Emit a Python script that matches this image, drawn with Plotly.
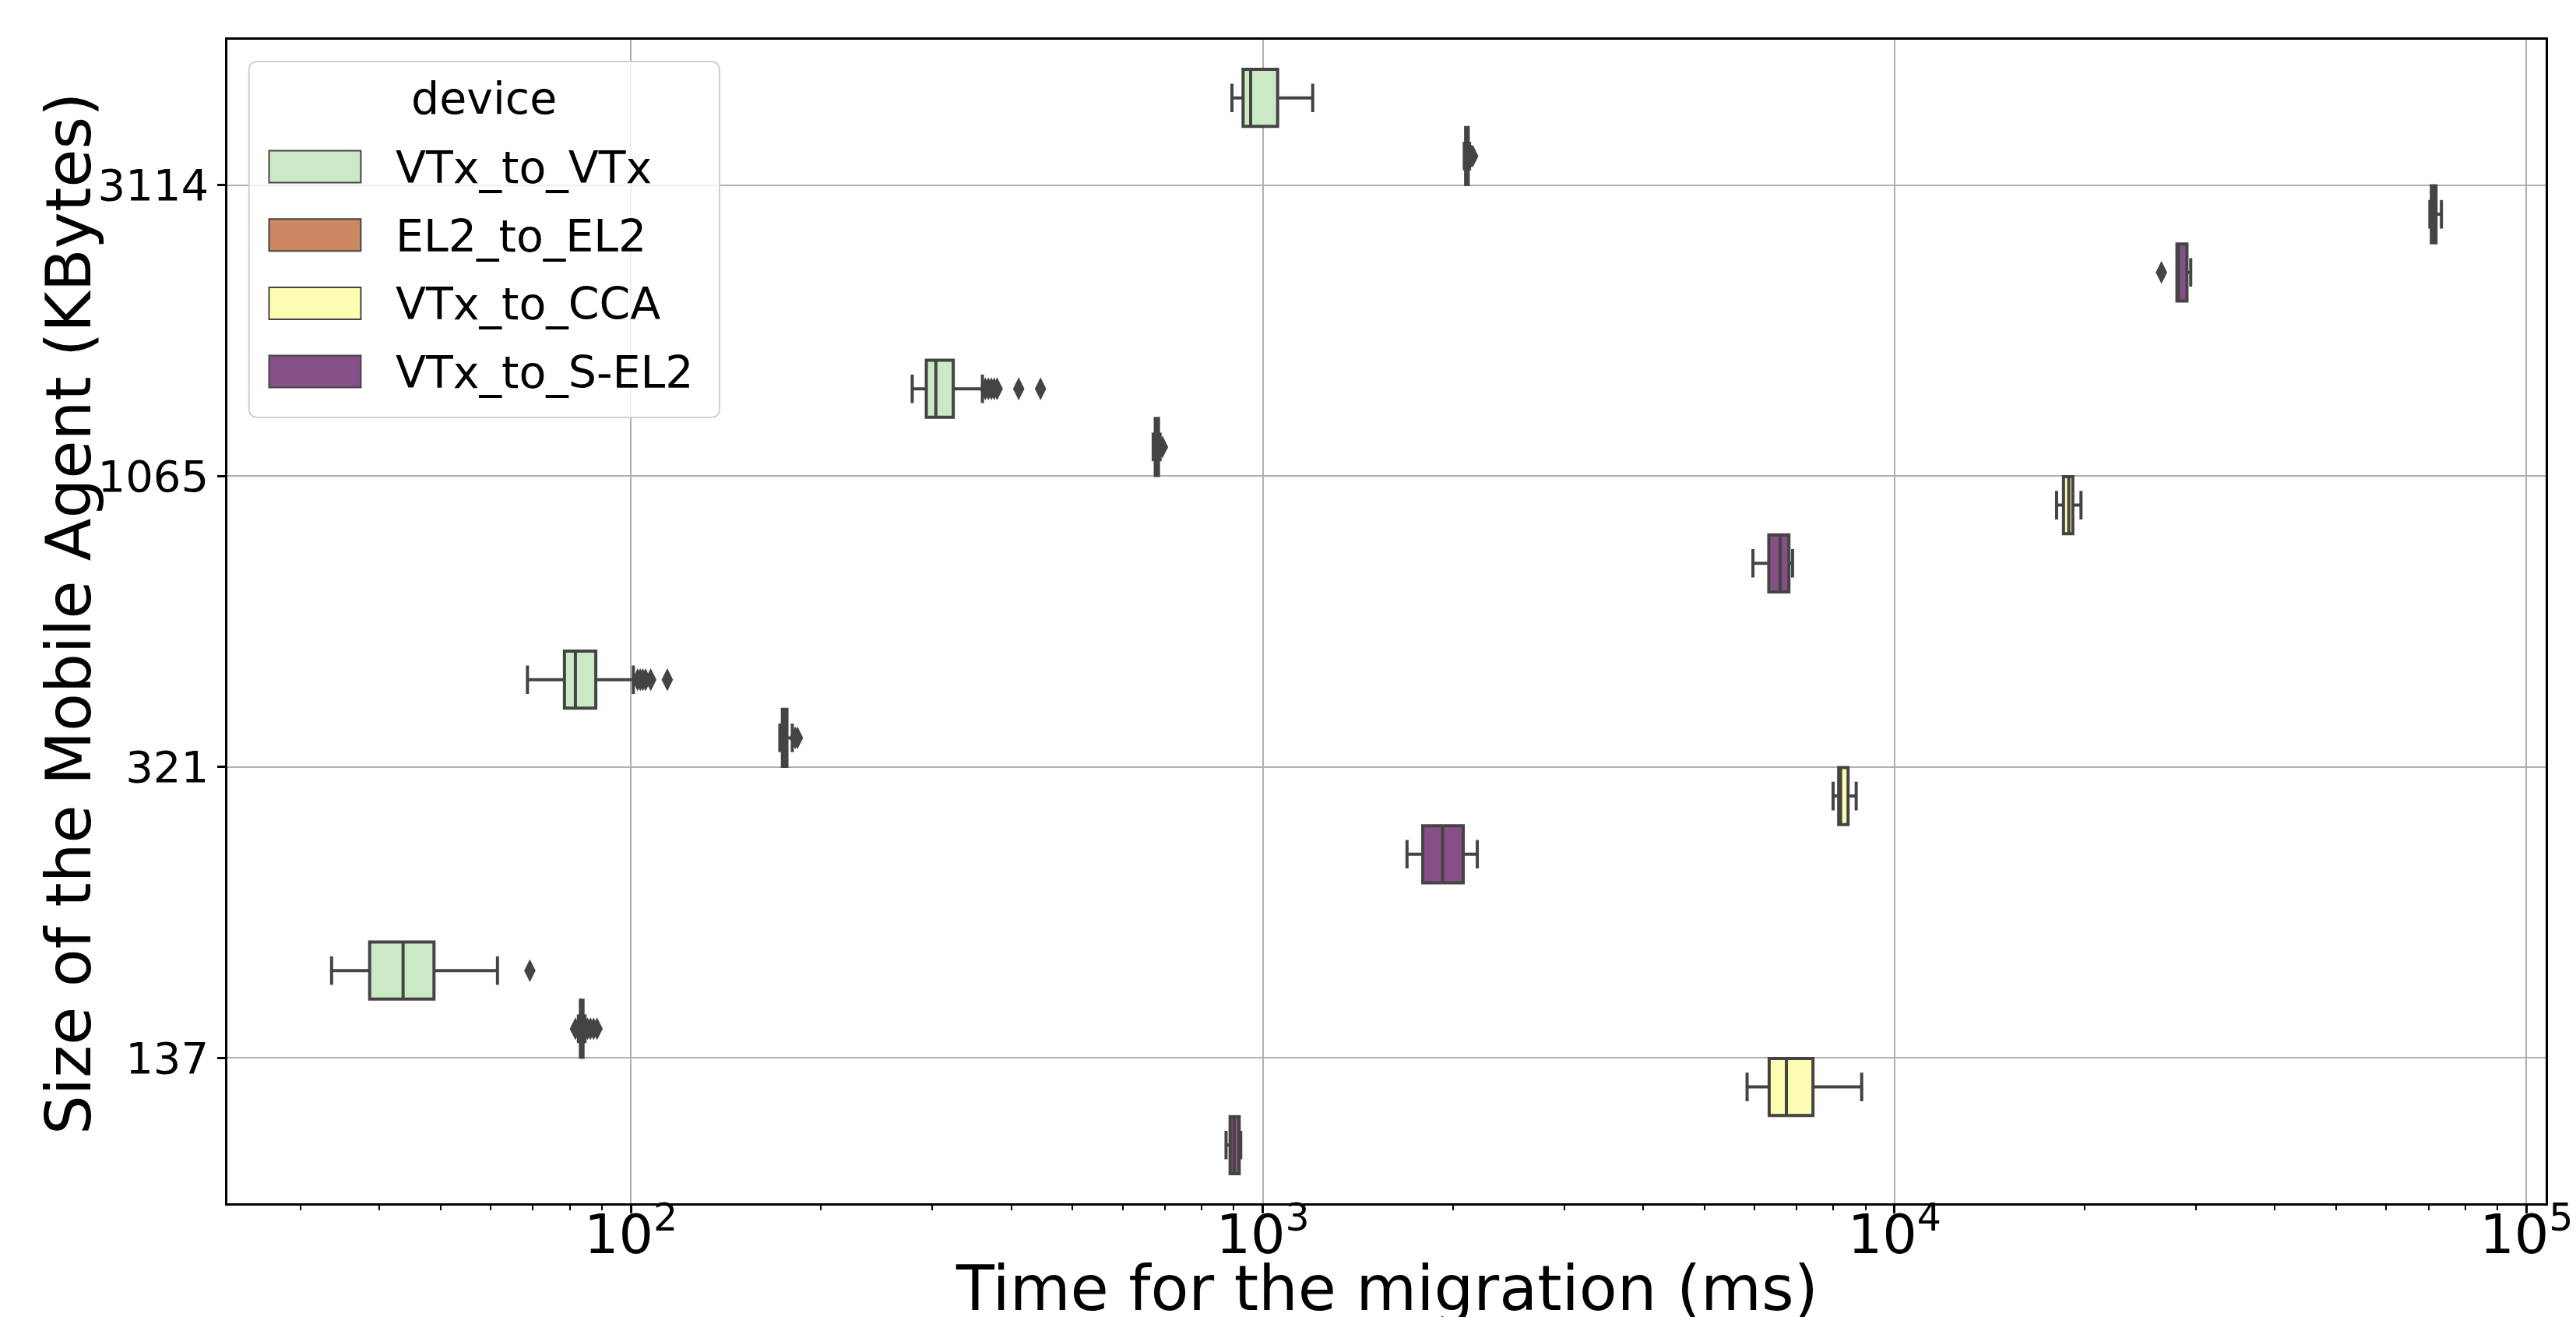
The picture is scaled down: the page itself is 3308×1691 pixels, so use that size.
import plotly.graph_objects as go

# ---------------- data ----------------
sizes = ["137", "321", "1065", "3114"]
devices = ["VTx_to_VTx", "EL2_to_EL2", "VTx_to_CCA", "VTx_to_S-EL2"]

vtx_vtx_lower = [33.6, 68.6, 278.8, 894]
vtx_vtx_q1 = [38.6, 78.5, 293.5, 931]
vtx_vtx_median = [43.6, 81.7, 303.9, 957]
vtx_vtx_q3 = [48.8, 88.0, 323.8, 1056]
vtx_vtx_upper = [61.5, 100.9, 360.1, 1200]
vtx_vtx_outliers = [[69.2], [102.5, 103.5, 104.5, 105.5, 107.5, 114.2],
                    [364, 368, 372, 376, 380, 411, 445], []]

el2_el2_lower = [82.6, 172.1, 671, 2085]
el2_el2_q1 = [83.2, 173.7, 676, 2095]
el2_el2_median = [83.6, 175.5, 680, 2105]
el2_el2_q3 = [84.0, 176.6, 684, 2115]
el2_el2_upper = [84.6, 180.1, 688, 2125]
el2_el2_outliers = [[81.7, 85.4, 86.3, 87.3, 88.4], [182.0, 183.5], [694], [2140, 2150]]

vtx_cca_lower = [5843, 7995, 18050, 70350]
vtx_cca_q1 = [6333, 8159, 18510, 70740]
vtx_cca_median = [6743, 8216, 18870, 71200]
vtx_cca_q3 = [7429, 8443, 19150, 71950]
vtx_cca_upper = [8872, 8696, 19730, 73380]
vtx_cca_outliers = [[], [], [], []]

vtx_sel2_lower = [875, 1692, 5969, 27990]
vtx_sel2_q1 = [888, 1792, 6324, 27990]
vtx_sel2_median = [901, 1926, 6592, 28130]
vtx_sel2_q3 = [918, 2077, 6805, 29030]
vtx_sel2_upper = [923, 2186, 6896, 29430]
vtx_sel2_outliers = [[], [], [], [26450]]

stats = {
    "VTx_to_VTx": (vtx_vtx_lower, vtx_vtx_q1, vtx_vtx_median, vtx_vtx_q3, vtx_vtx_upper, vtx_vtx_outliers),
    "EL2_to_EL2": (el2_el2_lower, el2_el2_q1, el2_el2_median, el2_el2_q3, el2_el2_upper, el2_el2_outliers),
    "VTx_to_CCA": (vtx_cca_lower, vtx_cca_q1, vtx_cca_median, vtx_cca_q3, vtx_cca_upper, vtx_cca_outliers),
    "VTx_to_S-EL2": (vtx_sel2_lower, vtx_sel2_q1, vtx_sel2_median, vtx_sel2_q3, vtx_sel2_upper, vtx_sel2_outliers),
}

colors = {"VTx_to_VTx": "#cbe9c4", "EL2_to_EL2": "#cc8862",
          "VTx_to_CCA": "#fdfdb2", "VTx_to_S-EL2": "#864f87"}

# ---------------- layout geometry ----------------
W, H = 3308, 1691
ML, MR, MT, MB = 284, 19, 43, 154
PW, PH = W - ML - MR, H - MT - MB
FONT = "DejaVu Sans"
LINE = "#444444"


def px_x(p):
    return (p - ML) / PW


def px_y(p):
    return (H - MB - p) / PH


hue_step = 0.2

fig = go.Figure()

for h, dev in enumerate(devices):
    lo, q1, med, q3, up, outl = stats[dev]
    pos = [i + (1.5 - h) * hue_step for i in range(len(sizes))]
    fig.add_trace(go.Box(
        y=pos, q1=q1, median=med, q3=q3, lowerfence=lo, upperfence=up,
        orientation="h", width=hue_step * 0.98, whiskerwidth=0.5,
        fillcolor=colors[dev], line=dict(color=LINE, width=4),
        boxpoints=False, name=dev, showlegend=False, hoverinfo="x"))
    ox, oy = [], []
    for i, vals in enumerate(outl):
        for v in vals:
            ox.append(v)
            oy.append(pos[i])
    if ox:
        fig.add_trace(go.Scatter(
            x=ox, y=oy, mode="markers", showlegend=False,
            marker=dict(symbol="diamond-tall", size=21, color=LINE, line=dict(width=0))))

fig.update_layout(
    width=W, height=H, margin=dict(l=ML, r=MR, t=MT, b=MB),
    paper_bgcolor="white", plot_bgcolor="white",
    font=dict(family=FONT, color="black"),
    boxmode="overlay", showlegend=False,
)

fig.update_xaxes(
    type="log", range=[1.3614, 5.0305], dtick=1, exponentformat="power",
    showgrid=True, gridcolor="#b0b0b0", gridwidth=2,
    showline=True, linecolor="black", linewidth=2.5, mirror=True,
    ticks="outside", ticklen=10, tickwidth=2.5, tickcolor="black",
    tickfont=dict(size=56, family=FONT, color="black"),
    ticklabeloverflow="allow", ticklabelstandoff=-30,
    minor=dict(ticks="outside", ticklen=6, tickwidth=2, tickcolor="black", dtick="D1", showgrid=False),
    zeroline=False,
)
fig.update_yaxes(
    range=[-0.5, 3.5], tickmode="array", tickvals=list(range(len(sizes))), ticktext=sizes,
    showgrid=True, gridcolor="#b0b0b0", gridwidth=2,
    showline=True, linecolor="black", linewidth=2.5, mirror=True,
    ticks="outside", ticklen=10, tickwidth=2.5, tickcolor="black",
    tickfont=dict(size=56, family=FONT, color="black"),
    zeroline=False,
)

# axis titles
fig.add_annotation(text="Time for the migration (ms)", xref="paper", yref="paper",
                   x=px_x((ML + W - MR) / 2), y=px_y(1646), xanchor="center", yanchor="middle",
                   showarrow=False, font=dict(size=80, family=FONT, color="black"))
fig.add_annotation(text="Size of the Mobile Agent (KBytes)", xref="paper", yref="paper",
                   x=px_x(78), y=px_y((MT + H - MB) / 2 - 10), xanchor="center", yanchor="middle",
                   textangle=-90, showarrow=False, font=dict(size=80, family=FONT, color="black"))

# legend (drawn manually to mimic the matplotlib legend)
lx0, lx1, ly0, ly1 = 312, 922, 71, 528
rr = 12
x0, x1 = px_x(lx0), px_x(lx1)
y0, y1 = px_y(ly0), px_y(ly1)
rx, ry = rr / PW, rr / PH
path = (f"M {x0+rx},{y0} L {x1-rx},{y0} Q {x1},{y0} {x1},{y0-ry} "
        f"L {x1},{y1+ry} Q {x1},{y1} {x1-rx},{y1} L {x0+rx},{y1} Q {x0},{y1} {x0},{y1+ry} "
        f"L {x0},{y0-ry} Q {x0},{y0} {x0+rx},{y0} Z")
fig.add_shape(type="path", path=path, xref="paper", yref="paper", layer="above",
              fillcolor="rgba(255,255,255,0.8)", line=dict(color="#d0d0d0", width=2))
fig.add_annotation(text="device", xref="paper", yref="paper", x=px_x((lx0 + lx1) / 2), y=px_y(118),
                   xanchor="center", yanchor="middle", showarrow=False,
                   font=dict(size=57, family=FONT, color="black"))
for i, dev in enumerate(devices):
    cy = 206 + i * 87.7
    fig.add_shape(type="rect", xref="paper", yref="paper", layer="above",
                  x0=px_x(338), x1=px_x(457), y0=px_y(cy - 20.5), y1=px_y(cy + 20.5),
                  fillcolor=colors[dev], line=dict(color=LINE, width=2))
    fig.add_annotation(text=dev, xref="paper", yref="paper", x=px_x(500), y=px_y(cy + 1),
                       xanchor="left", yanchor="middle", showarrow=False,
                       font=dict(size=57, family=FONT, color="black"))

fig.write_html("out.html")
